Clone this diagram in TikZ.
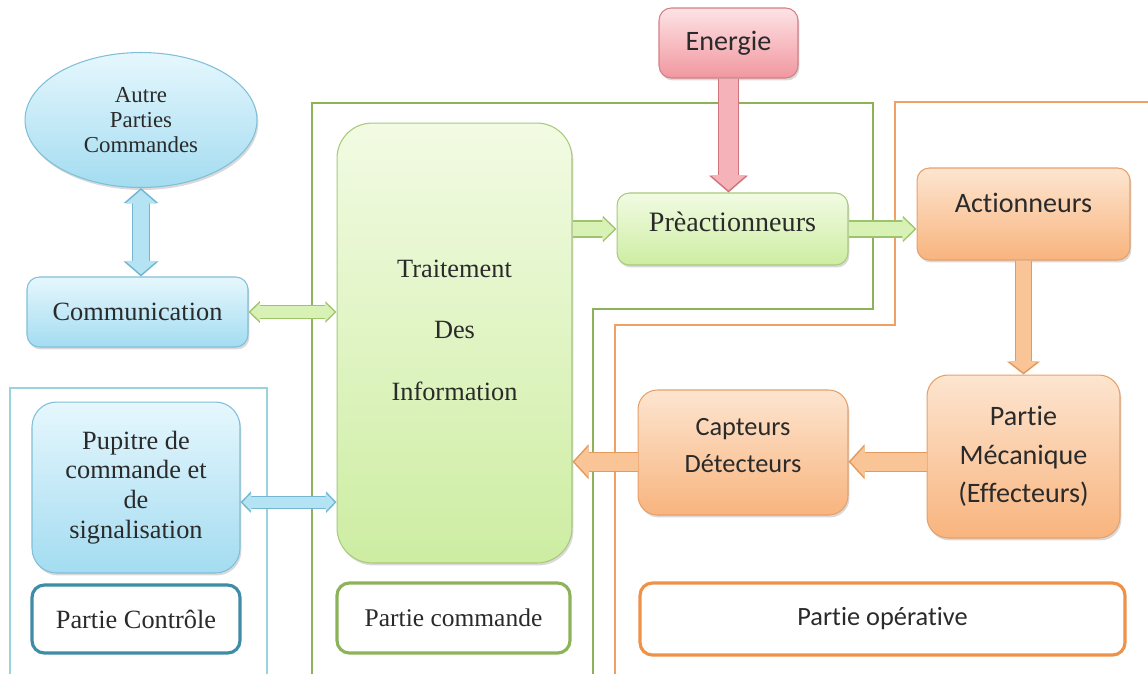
\documentclass[tikz,border=0pt]{standalone}
\usepackage{fontspec}
\setmainfont{Liberation Serif}
\newfontfamily\calibri[Ligatures={NoCommon,NoRequired,NoContextual},RawFeature={-liga;-clig;-calt;-rlig}]{Carlito}
\usetikzlibrary{shapes.geometric,arrows.meta,shadows}

\definecolor{bleutop}{HTML}{E6F7FD}
\definecolor{bleubot}{HTML}{A3DCF1}
\definecolor{bleuedge}{HTML}{7FBFD8}
\definecolor{verttop}{HTML}{F2FBE3}
\definecolor{vertbot}{HTML}{CDEDA2}
\definecolor{vertedge}{HTML}{A8CA7A}
\definecolor{orantop}{HTML}{FDE5D0}
\definecolor{oranbot}{HTML}{F8B47E}
\definecolor{oranedge}{HTML}{E8A06A}
\definecolor{rougetop}{HTML}{FDE3E5}
\definecolor{rougebot}{HTML}{F1979F}
\definecolor{rougeedge}{HTML}{D47F87}
\definecolor{fbleu}{HTML}{B4E3F4}
\definecolor{fbleuedge}{HTML}{74B6CF}
\definecolor{fvert}{HTML}{D8F1B5}
\definecolor{fvertedge}{HTML}{9DC46B}
\definecolor{foran}{HTML}{F9C597}
\definecolor{foranedge}{HTML}{E39A5E}
\definecolor{frouge}{HTML}{F5B2B8}
\definecolor{frougeedge}{HTML}{CF737C}
\definecolor{cadrevert}{HTML}{8DB35A}
\definecolor{cadreorange}{HTML}{F0A062}
\definecolor{cadrebleu}{HTML}{9CD2E0}
\definecolor{ctrl}{HTML}{3E8CA6}
\definecolor{opera}{HTML}{EE9149}
\definecolor{txt}{HTML}{2A2A2A}

\begin{document}
\begin{tikzpicture}[x=0.02cm,y=-0.02cm,
  bloc/.style={draw=#1edge, line width=0.6pt, top color=#1top, bottom color=#1bot,
    rounded corners=7pt, align=center, text=txt, inner sep=2pt,
    drop shadow={shadow xshift=0.8pt, shadow yshift=-1.4pt, opacity=0.3}},
  etiquette/.style={draw=#1, line width=1.8pt, fill=white, rounded corners=7pt,
    text=txt, inner sep=2pt},
  cadre/.style={draw=#1, line width=0.8pt},
  fleche/.style n args={4}{draw=#1, line width=#3,
    -{Triangle[length=0pt 0.8, width=0pt #4]}, shorten >=1.2pt,
    preaction={draw=#2, line width=#3+1.2pt, shorten >=0pt}},
  dfleche/.style n args={4}{draw=#1, line width=#3,
    {Triangle[length=0pt 0.8, width=0pt #4]}-{Triangle[length=0pt 0.8, width=0pt #4]},
    shorten >=1.2pt, shorten <=1.2pt,
    preaction={draw=#2, line width=#3+1.2pt, shorten >=0pt, shorten <=0pt}}]
\useasboundingbox (0,0) rectangle (1148,674);

% les trois parties
\draw[cadre=cadrebleu] (10,674) -- (10,388) -- (267,388) -- (267,674);
\draw[cadre=cadrevert] (312,674) -- (312,103) -- (873,103) -- (873,309) -- (593,309) -- (593,674);
\draw[cadre=cadreorange] (615,674) -- (615,325) -- (895,325) -- (895,102) -- (1148,102);

% blocs
\node[bloc=rouge, font=\calibri\fontsize{16}{19}\selectfont, minimum width=2.78cm, minimum height=1.4cm] (ener) at (728.5,43) {Energie};
\node[ellipse, draw=bleuedge, line width=0.6pt, top color=bleutop, bottom color=bleubot, align=center, text=txt, inner sep=0pt,
  drop shadow={shadow xshift=0.8pt, shadow yshift=-1.4pt, opacity=0.3},
  minimum width=4.64cm, minimum height=2.7cm, font=\fontsize{13}{14}\selectfont] (autre) at (141,120) {Autre\\Parties\\Commandes};
\node[bloc=bleu, minimum width=4.42cm, minimum height=1.4cm, font=\fontsize{15}{18}\selectfont] (comm) at (137.5,312) {Communication};
\node[bloc=vert, rounded corners=20pt, minimum width=4.7cm, minimum height=8.8cm, font=\fontsize{15}{35}\selectfont] (trt) at (454.5,343) {Traitement\\Des\\Information\\[-20pt]\mbox{}};
\node[bloc=vert, minimum width=4.62cm, minimum height=1.44cm, text depth=8pt, font=\fontsize{16}{19}\selectfont] (preact) at (732.5,229) {Prèactionneurs};
\node[bloc=oran, minimum width=4.26cm, minimum height=1.84cm, text depth=13pt, font=\calibri\fontsize{16}{19}\selectfont] (act) at (1023.5,214) {Actionneurs};
\node[bloc=oran, rounded corners=12pt, minimum width=3.86cm, minimum height=3.26cm, font=\calibri\fontsize{16}{22}\selectfont] (meca) at (1023.5,456.5) {Partie\\Mécanique\\(Effecteurs)};
\node[bloc=oran, rounded corners=11pt, minimum width=4.2cm, minimum height=2.5cm, font=\calibri\fontsize{15}{21.5}\selectfont] (capt) at (743,452.5) {Capteurs\\Détecteurs\\[-13.5pt]\mbox{}};
\node[bloc=bleu, rounded corners=14pt, minimum width=4.16cm, minimum height=3.42cm, font=\fontsize{15}{17}\selectfont] (pupi) at (136,487.5) {Pupitre de\\commande et\\de\\signalisation};

% etiquettes
\node[etiquette=ctrl, minimum width=4.16cm, minimum height=1.36cm, font=\fontsize{15}{18}\selectfont] (lctrl) at (136,619) {Partie Contrôle};
\node[etiquette=cadrevert, minimum width=4.66cm, minimum height=1.4cm, font=\fontsize{14.5}{18}\selectfont] (lcmd) at (453.5,618) {Partie commande};
\node[etiquette=opera, minimum width=9.7cm, minimum height=1.44cm, font=\calibri\fontsize{15}{18}\selectfont] (lop) at (882.5,619) {Partie opérative};

% fleches
\draw[dfleche={fbleu}{fbleuedge}{9.6pt}{1.8}] (autre.south) -- (autre.south |- comm.north);
\draw[dfleche={fvert}{fvertedge}{6.8pt}{1.5}] (comm.east) -- (comm.east -| trt.west);
\draw[dfleche={fbleu}{fbleuedge}{6.2pt}{1.6}] (pupi.-8) -- (pupi.-8 -| trt.west);
\draw[fleche={frouge}{frougeedge}{10.8pt}{1.8}] (ener.south) -- (ener.south |- preact.north);
\draw[fleche={fvert}{fvertedge}{8.5pt}{1.5}] (trt.east |- preact.west) -- (preact.west);
\draw[fleche={fvert}{fvertedge}{8.5pt}{1.5}] (preact.east) -- (preact.east -| act.west);
\draw[fleche={foran}{foranedge}{8pt}{2}] (act.south) -- (meca.north);
\draw[fleche={foran}{foranedge}{10.2pt}{1.7}] (meca.west |- capt.185) -- (capt.east |- capt.185);
\draw[fleche={foran}{foranedge}{10.2pt}{1.7}] (capt.185) -- (capt.185 -| trt.east);
\end{tikzpicture}
\end{document}
